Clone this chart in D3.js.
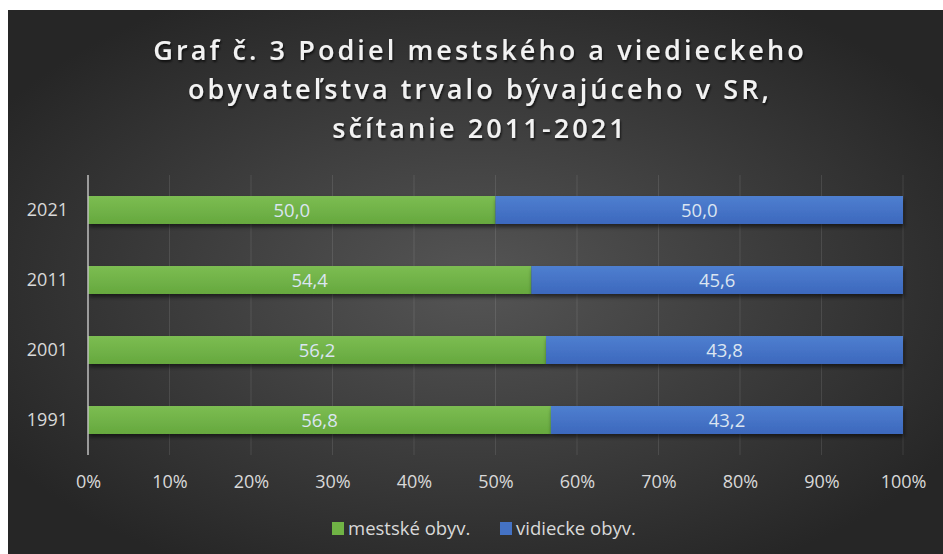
<!DOCTYPE html>
<html>
<head>
<meta charset="utf-8">
<script src="https://cdn.jsdelivr.net/npm/d3@7"></script>
<style>
  body { margin: 0; background: #fff; }
  text { font-family: "Open Sans", "Noto Sans", sans-serif; }
</style>
</head>
<body>
<svg id="chart" width="943" height="554"></svg>
<script>
const years = ["2021", "2011", "2001", "1991"];
const urban = [50.0, 54.4, 56.2, 56.8];
const rural = [50.0, 45.6, 43.8, 43.2];
const seriesNames = ["mestské obyv.", "vidiecke obyv."];
const xTicks = [0, 10, 20, 30, 40, 50, 60, 70, 80, 90, 100];
const titleLines = ["Graf č. 3 Podiel mestského a viedieckeho", "obyvateľstva trvalo bývajúceho v SR,", "sčítanie 2011-2021"];

const svg = d3.select("#chart");
const defs = svg.append("defs");

// background radial gradient
const bg = defs.append("radialGradient").attr("id", "bg")
    .attr("cx", "50%").attr("cy", "50%").attr("r", "60%");
bg.append("stop").attr("offset", "0%").attr("stop-color", "#555555");
bg.append("stop").attr("offset", "100%").attr("stop-color", "#262626");

const gGreen = defs.append("linearGradient").attr("id", "gGreen").attr("x1", 0).attr("x2", 0).attr("y1", 0).attr("y2", 1);
gGreen.append("stop").attr("offset", "0%").attr("stop-color", "#7cbd52");
gGreen.append("stop").attr("offset", "100%").attr("stop-color", "#66a83e");
const gBlue = defs.append("linearGradient").attr("id", "gBlue").attr("x1", 0).attr("x2", 0).attr("y1", 0).attr("y2", 1);
gBlue.append("stop").attr("offset", "0%").attr("stop-color", "#4f7fd0");
gBlue.append("stop").attr("offset", "100%").attr("stop-color", "#3c68bd");

const shadow = defs.append("filter").attr("id", "shadow").attr("x", "-5%").attr("y", "-30%").attr("width", "110%").attr("height", "180%");
shadow.append("feDropShadow").attr("dx", 1).attr("dy", 3).attr("stdDeviation", 2).attr("flood-color", "#000").attr("flood-opacity", 0.55);

const tshadow = defs.append("filter").attr("id", "tshadow");
tshadow.append("feDropShadow").attr("dx", 1).attr("dy", 2).attr("stdDeviation", 1.2).attr("flood-color", "#000").attr("flood-opacity", 0.7);

svg.append("rect").attr("x", 8).attr("y", 10).attr("width", 935).attr("height", 544).attr("fill", "url(#bg)");

// title
svg.append("g").selectAll("text").data(titleLines).join("text")
    .attr("x", 480)
    .attr("y", (d, i) => 60 + i * 39)
    .attr("text-anchor", "middle")
    .attr("font-size", 27)
    .attr("font-weight", 600)
    .attr("letter-spacing", 3.1)
    .attr("fill", "#f2f2f2")
    .attr("filter", "url(#tshadow)")
    .text(d => d);

const x = d3.scaleLinear().domain([0, 100]).range([88, 903]);
const y = d3.scaleBand().domain(years).range([175, 455]).paddingInner(0.6).paddingOuter(0.3);

// gridlines
svg.append("g").selectAll("line").data(xTicks.slice(1)).join("line")
    .attr("x1", d => x(d)).attr("x2", d => x(d))
    .attr("y1", 175).attr("y2", 455)
    .attr("stroke", "#ffffff").attr("stroke-opacity", 0.1);

const rows = years.map((yr, i) => ({ year: yr, urban: urban[i], rural: rural[i] }));

const bars = svg.append("g");
rows.forEach(r => {
  bars.append("rect")
      .attr("x", x(0)).attr("y", y(r.year))
      .attr("width", x(r.urban) - x(0)).attr("height", y.bandwidth())
      .attr("fill", "url(#gGreen)").attr("filter", "url(#shadow)");
  bars.append("rect")
      .attr("x", x(r.urban)).attr("y", y(r.year))
      .attr("width", x(100) - x(r.urban)).attr("height", y.bandwidth())
      .attr("fill", "url(#gBlue)").attr("filter", "url(#shadow)");
});

const fmt = v => d3.format(".1f")(v).replace(".", ",");
const labels = svg.append("g").attr("font-size", 18.5).attr("fill", "#dbe5f1").attr("text-anchor", "middle");
rows.forEach(r => {
  labels.append("text")
      .attr("x", (x(0) + x(r.urban)) / 2).attr("y", y(r.year) + y.bandwidth() / 2)
      .attr("dy", "0.36em").text(fmt(r.urban));
  labels.append("text")
      .attr("x", (x(r.urban) + x(100)) / 2).attr("y", y(r.year) + y.bandwidth() / 2)
      .attr("dy", "0.36em").text(fmt(r.rural));
});

// y axis
const yAxis = svg.append("g").attr("transform", `translate(${x(0)},0)`)
    .call(d3.axisLeft(y).tickSize(0).tickPadding(20));
yAxis.select(".domain").remove();
yAxis.append("line").attr("x1", 0).attr("x2", 0).attr("y1", 175).attr("y2", 455)
    .attr("stroke", "#bfbfbf").attr("stroke-width", 1.5);
yAxis.selectAll("text").attr("font-size", 18).attr("fill", "#d9d9d9")
    .style("font-family", "'Open Sans', sans-serif");

// x axis
const xAxis = svg.append("g").attr("transform", "translate(0,455)")
    .call(d3.axisBottom(x).tickValues(xTicks).tickSize(0).tickPadding(20).tickFormat(d => d + "%"));
xAxis.select(".domain").remove();
xAxis.selectAll("text").attr("font-size", 18).attr("fill", "#d9d9d9")
    .style("font-family", "'Open Sans', sans-serif");

// legend
const legend = svg.append("g").attr("font-size", 18.5).attr("fill", "#d9d9d9");
const legendX = [332, 500];
const colors = ["#70b345", "#4472c4"];
seriesNames.forEach((n, i) => {
  legend.append("rect").attr("x", legendX[i]).attr("y", 522).attr("width", 12).attr("height", 13).attr("fill", colors[i]);
  legend.append("text").attr("x", legendX[i] + 16).attr("y", 528).attr("dy", "0.36em").text(n);
});
</script>
</body>
</html>
